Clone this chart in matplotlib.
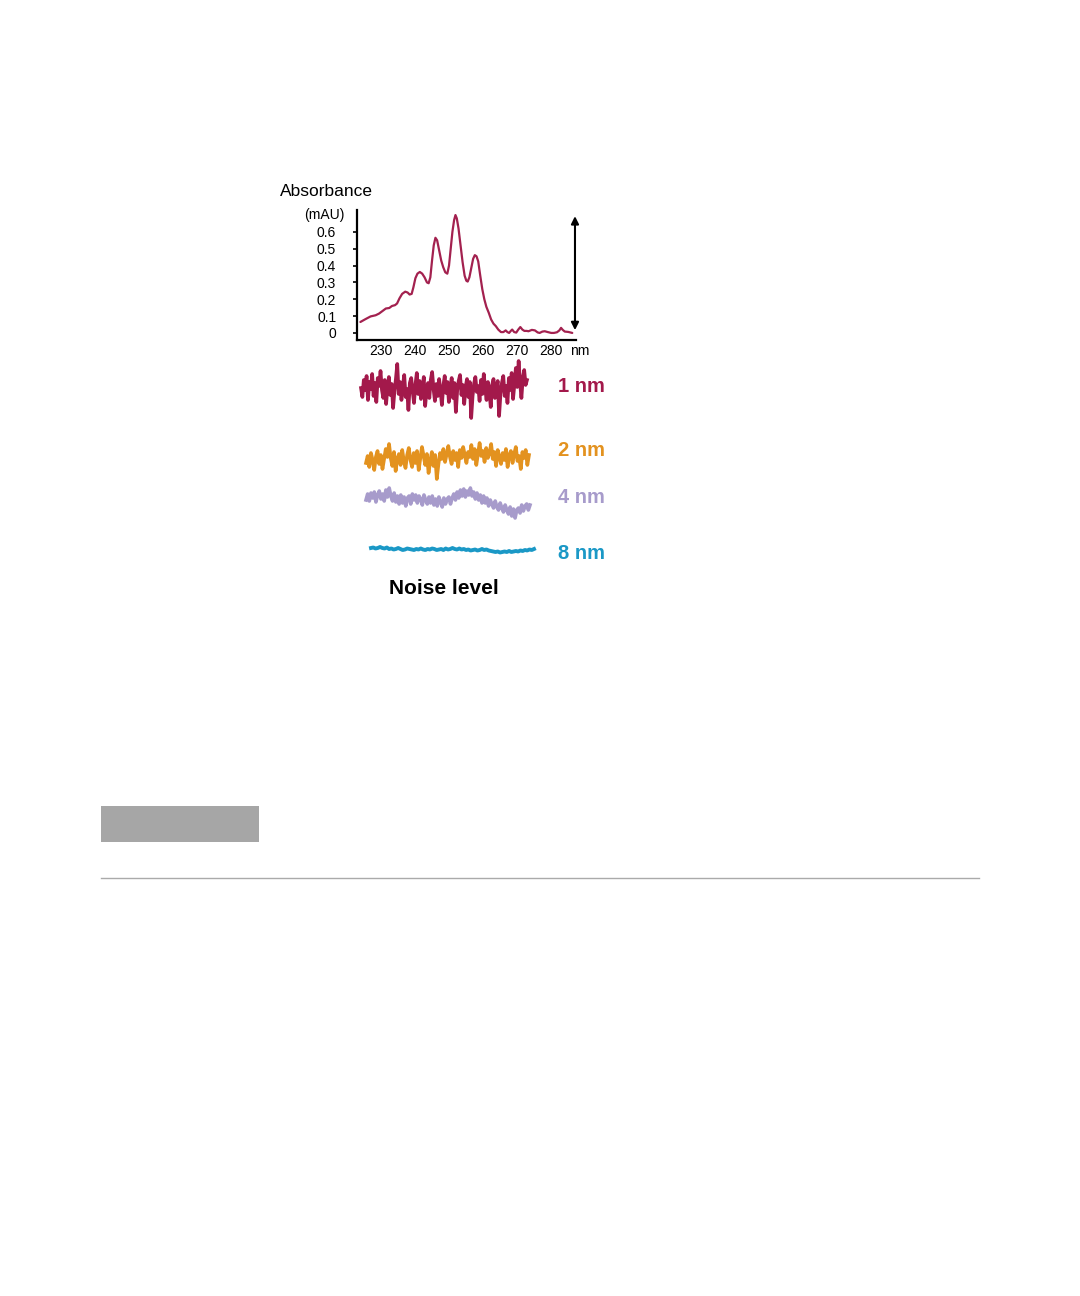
import numpy as np
import matplotlib
matplotlib.use("Agg")
import matplotlib.pyplot as plt
from matplotlib.patches import Rectangle
from matplotlib.lines import Line2D

plt.rcParams['font.family'] = ['Liberation Sans', 'DejaVu Sans']

# absorbance spectrum (nm, mAU)
wavelength = [224.0, 225.5, 227.0, 228.5, 229.5, 230.5, 231.5, 232.5, 233.3, 234.2,
              234.8, 235.5, 236.3, 237.2, 237.9, 238.5, 239.1, 239.6, 240.2, 240.8,
              241.5, 242.2, 242.9, 243.6, 244.1, 244.6, 245.1, 245.6, 246.1, 246.6,
              247.2, 247.8, 248.4, 249.0, 249.6, 250.1, 250.6, 251.1, 251.6, 252.0,
              252.4, 252.9, 253.5, 254.1, 254.7, 255.2, 255.6, 256.1, 256.6, 257.2,
              257.7, 258.2, 258.7, 259.3, 259.9, 260.5, 261.1, 261.8, 262.5, 263.2,
              263.9, 264.6, 265.4, 266.1, 266.8, 267.3, 267.8, 268.3, 268.7, 269.3,
              269.9, 270.5, 271.1, 271.7, 272.3, 273.0, 273.5, 274.5, 275.4, 276.2,
              276.8, 277.6, 278.3, 279.2, 280.2, 281.0, 281.9, 282.6, 283.1, 283.6,
              284.2, 285.2, 286.4]
absorbance = [0.065, 0.082, 0.098, 0.105, 0.115, 0.13, 0.145, 0.148, 0.16, 0.165,
              0.175, 0.205, 0.232, 0.245, 0.240, 0.228, 0.232, 0.27, 0.325, 0.352,
              0.362, 0.352, 0.33, 0.30, 0.295, 0.33, 0.43, 0.52, 0.565, 0.55,
              0.49, 0.43, 0.39, 0.36, 0.352, 0.40, 0.50, 0.60, 0.67, 0.70,
              0.68, 0.62, 0.52, 0.42, 0.34, 0.31, 0.305, 0.33, 0.38, 0.44,
              0.462, 0.455, 0.425, 0.34, 0.26, 0.20, 0.155, 0.12, 0.08, 0.055,
              0.04, 0.02, 0.005, 0.005, 0.015, 0.005, 0.0, 0.012, 0.02, 0.005,
              0.002, 0.02, 0.035, 0.02, 0.012, 0.012, 0.01, 0.018, 0.015, 0.003,
              0.0, 0.008, 0.01, 0.005, 0.0, 0.0, 0.004, 0.015, 0.03, 0.018,
              0.008, 0.006, 0.0]
xticks = [230, 240, 250, 260, 270, 280]
yticks = [0, 0.1, 0.2, 0.3, 0.4, 0.5, 0.6]
ytick_labels = ['0', '0.1', '0.2', '0.3', '0.4', '0.5', '0.6']

# noise traces (deviation, px)
noise_1nm = [4, -5, 12, 2, 16, -8, 10, 3, 18, -4, 9, -10, 14, 6, 21, 2, -6, 12, -12, 5,
             15, -3, 8, -16, 1, 13, 28, -2, 10, -8, 6, 17, -5, 3, -18, 9, 14, 1, -11, 7,
             19, -2, 11, -7, 4, 15, -14, 2, 9, -6, 12, 20, 3, -9, 8, -4, 13, 1, -13, 6,
             16, -1, 10, -10, 4, 14, -6, 9, -20, 2, 11, 17, -3, 7, -12, 5, 13, -5, 10, -26,
             -4, 8, 15, 0, 6, -9, 12, -2, 18, 4, -8, 10, 1, -15, 7, 13, -6, 3, 11, -24,
             -2, 9, 16, -4, 6, -11, 14, 2, 19, -7, 8, 24, 5, 31, 10, -6, 14, 22, 7, 12]
noise_2nm = [-2, 5, -6, 8, 1, -9, 4, 10, -3, 6, -8, 2, 12, 4, 17, 3, -5, 9, -10, 2,
             7, -4, 11, 0, -7, 6, 13, 1, -6, 8, -2, 10, -9, 3, 14, 5, -4, 7, -12, 0,
             9, -5, 6, -18, -3, 8, 2, 12, -1, 7, 15, 4, -3, 10, 1, 8, -6, 11, 3, 14,
             6, -2, 9, 4, 16, 2, 12, -4, 7, 18, 5, 10, -1, 13, 3, 8, 17, 2, 9, -5,
             11, 4, -3, 8, 1, 12, -6, 6, 10, -2, 7, 14, 0, 5, -8, 9, 3, 11, -4, 6]
noise_4nm = [0, 6, -1, 7, 2, 8, -2, 5, 9, 1, 6, -1, 10, 3, 12, 4, -1, 7, -2, 4,
             -4, 5, -3, 3, -6, 2, 4, -4, 6, 0, 5, -3, 4, 1, -5, 5, 0, -4, 3, -3,
             4, -5, 1, -6, 3, -2, -7, 2, -4, 1, 3, -4, 2, 6, 0, 8, 2, 10, 4, 11,
             3, 9, 5, 12, 4, 8, 1, 7, 0, 5, -3, 4, -3, 2, -6, 0, -4, -8, -1, -7,
             -10, -3, -8, -12, -5, -10, -14, -7, -16, -9, -18, -10, -8, -13, -5, -11, -6, -4, -10, -5]
noise_8nm = [2, 2.5, 1.5, 2, 3, 2, 1.5, 2.5, 1, 1.5, 0.5, 1, 2, 1, 0, 0.5, 1.5, 1, 0.5, 0,
             1, 0.5, 1.5, 0.5, 0, 1, 0.5, 1.5, 1, 0, 0.5, 1, 0, 1.5, 0.5, 1, 2, 1, 0.5, 1.5,
             0.5, 1, 0, 0.5, -0.5, 0, 0.5, -0.5, 0, 1, 0, 0.5, -0.5, -1, -1.5, -2, -1.5, -2.5, -2, -1.5,
             -2, -1, -2, -1.5, -1, -1.5, -0.5, -1, 0, -0.5, 0.5, 0, 1]
noise_labels = ['1 nm', '2 nm', '4 nm', '8 nm']
noise_colors = ['#A3194B', '#E3921F', '#A79BCB', '#1A98C6']

W, H = 1080, 1296
fig = plt.figure(figsize=(W / 100, H / 100), dpi=100)


def px_rect(x0, y0, x1, y1):
    return [x0 / W, 1 - y1 / H, (x1 - x0) / W, (y1 - y0) / H]


# spectrum
ax = fig.add_axes(px_rect(357, 210, 576, 340))
ax.plot(wavelength, absorbance, color='#A3214F', lw=1.6,
        solid_joinstyle='round', solid_capstyle='round')
ax.set_xlim(223, 287.5)
ax.set_ylim(-0.042, 0.73)
for s in ['top', 'right']:
    ax.spines[s].set_visible(False)
for s in ['left', 'bottom']:
    ax.spines[s].set_linewidth(1.6)
ax.set_xticks(xticks)
ax.set_yticks(yticks)
ax.set_yticklabels(ytick_labels)
ax.tick_params(axis='both', labelsize=10, length=3, width=1.2, direction='out')
ax.tick_params(axis='y', pad=12)
ax.tick_params(axis='x', pad=3, length=0)
ax.annotate('', xy=(287.2, 0.71), xytext=(287.2, 0.0),
            arrowprops=dict(arrowstyle='<|-|>', color='black', lw=1.5, mutation_scale=11),
            annotation_clip=False)

fig.text(280 / W, 1 - 191 / H, 'Absorbance', fontsize=12.5, ha='left', va='center')
fig.text(324 / W, 1 - 215 / H, '(mAU)', fontsize=10, ha='center', va='center')
fig.text(580 / W, 1 - 351 / H, 'nm', fontsize=10, ha='center', va='center')

# noise traces, drawn in a pixel-scaled axes
nx = fig.add_axes(px_rect(340, 355, 620, 605))
nx.set_xlim(340, 620)
nx.set_ylim(605, 355)
nx.axis('off')

traces = [noise_1nm, noise_2nm, noise_4nm, noise_8nm]
spans = [(361, 527), (366, 529), (366, 530), (371, 534)]
centers = [392, 461, 500, 550]
widths = [2.6, 2.6, 2.6, 2.8]
label_y = [386, 450, 497, 553]
for vals, (x0, x1), cy, lw, lab, ly, c in zip(traces, spans, centers, widths,
                                              noise_labels, label_y, noise_colors):
    xs = np.linspace(x0, x1, len(vals))
    nx.plot(xs, cy - np.array(vals), color=c, lw=lw, solid_joinstyle='round')
    nx.text(558, ly, lab, color=c, fontsize=14.5, fontweight='bold',
            ha='left', va='center')

nx.text(444, 588, 'Noise level', fontsize=15, fontweight='bold', ha='center', va='center')

# page furniture
fig.patches.append(Rectangle((101 / W, 1 - 842 / H), 158 / W, 36 / H,
                             transform=fig.transFigure, color='#A6A6A6', lw=0))
fig.lines.append(Line2D([101 / W, 979 / W], [1 - 878 / H, 1 - 878 / H],
                        transform=fig.transFigure, color='#AAAAAA', lw=1))

fig.savefig('out.png', dpi=100)
